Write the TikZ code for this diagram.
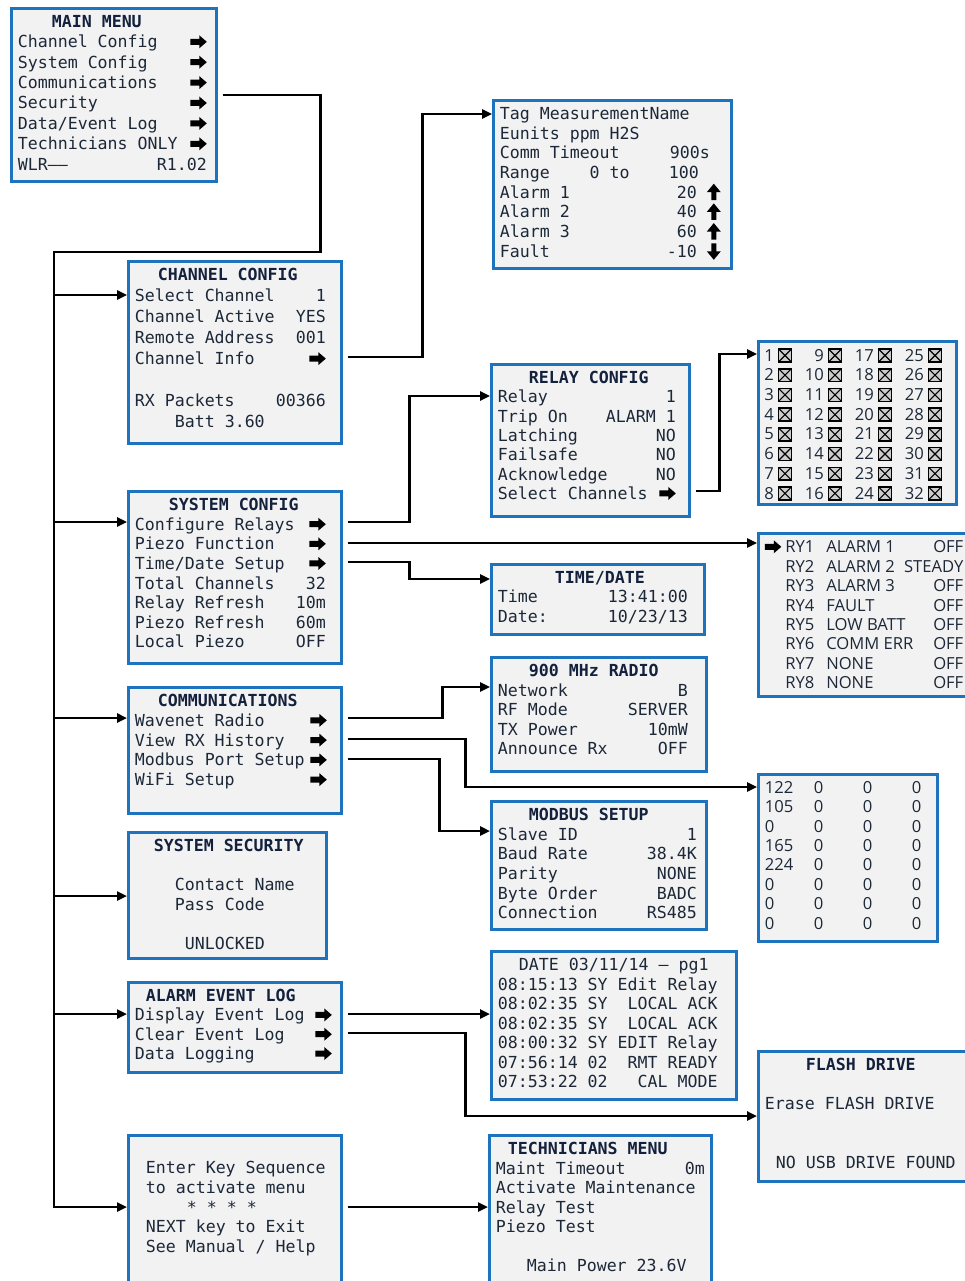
\documentclass[tikz,border=0pt]{standalone}
\usepackage{fontspec}
\usepackage{graphicx}
\usepackage{xcolor}
\usepackage{tikz}
\usetikzlibrary{arrows.meta}
\newfontfamily\lcd{DejaVu Sans Mono}
\newfontfamily\gridf{Open Sans}
\definecolor{scrblue}{HTML}{1E73BE}
\definecolor{scrfill}{HTML}{F2F2F2}
\definecolor{ink}{HTML}{1C2838}
\definecolor{titleink}{HTML}{14213D}
% screen contents: [baselineskip]{total width}{height}{right margin}{lines}
\newcommand\panel[5][19.6pt]{\begin{minipage}[t][#3][t]{#2}%
  \fontsize{16.6pt}{#1}\selectfont\rightskip=#4\relax
  #5\end{minipage}}
\newcommand\ttl[1]{{\bfseries\color{titleink}#1}}
% block arrows and check boxes of the display
\newcommand\ra{\tikz[baseline=0pt, x=1pt, y=1pt]\fill[black]
  (0,3) -- (9,3) -- (9,-0.5) -- (16.5,6) -- (9,12.5) -- (9,9) -- (0,9) -- cycle;}
\newcommand\ua{\tikz[baseline=0pt, x=1pt, y=1pt]\fill[black]
  (4.5,-2) -- (9.5,-2) -- (9.5,6) -- (14,6) -- (7,14.5) -- (0,6) -- (4.5,6) -- cycle;}
\newcommand\da{\tikz[baseline=0pt, x=1pt, y=1pt]\fill[black]
  (4.5,14) -- (9.5,14) -- (9.5,6) -- (14,6) -- (7,-2.5) -- (0,6) -- (4.5,6) -- cycle;}
\newcommand\chk{\tikz[baseline=0pt, x=1pt, y=1pt]{%
  \filldraw[fill=gray!40, draw=black, line width=1.6pt] (0.8,-0.8) rectangle (13.6,12);
  \draw[black, line width=1.1pt] (0.8,-0.8) -- (13.6,12) (0.8,12) -- (13.6,-0.8);}}
\newcommand\blank{\rule{0pt}{12pt}}
\newcommand\chcell[1]{\makebox[9pt][r]{#1}\hspace{4pt}\makebox[16pt][l]{\chk}}
\newcommand\chrow[4]{\chcell{#1}\hspace{21pt}\chcell{#2}\hspace{21pt}\chcell{#3}\hspace{21pt}\chcell{#4}}
\newcommand\rxrow[4]{\makebox[49pt][l]{#1}\makebox[49pt][l]{#2}\makebox[49pt][l]{#3}#4}
\newcommand\ryrow[3]{\makebox[41pt][l]{#1}#2\hfill #3}

\begin{document}
\begin{tikzpicture}[
    x=1pt, y=-1pt,
    screen/.style={draw=scrblue, line width=2.6pt, fill=scrfill, anchor=north west,
      inner xsep=6.5pt, inner ysep=7pt, text=ink, font=\lcd},
    grid/.style={screen, font=\gridf},
    link/.style={line width=2.4pt, -{Triangle[length=10pt,width=9pt]}, shorten <=5pt}
  ]
  \useasboundingbox (0,0) rectangle (964,1281);

  % left column
  \node[screen] (mm) at (10,7) {\panel[20.4pt]{192pt}{159pt}{3pt}{%
    \hspace*{34pt}\ttl{MAIN MENU}\\
    Channel Config\hfill\ra\\
    System Config\hfill\ra\\
    Communications\hfill\ra\\
    Security\hfill\ra\\
    Data/Event Log\hfill\ra\\
    Technicians ONLY\hfill\ra\\
    WLR——\hfill R1.02}};
  \node[screen] (chan) at (127,260) {\panel[21pt]{200pt}{168pt}{9pt}{%
    \hspace*{23pt}\ttl{CHANNEL CONFIG}\\
    Select Channel\hfill 1\\
    Channel Active\hfill YES\\
    Remote Address\hfill 001\\
    Channel Info\hfill\ra\\
    \mbox{}\\
    RX Packets\hfill 00366\\
    \hspace*{40pt}Batt 3.60}};
  \node[screen] (sys) at (127,490) {\panel{200pt}{158pt}{9pt}{%
    \hspace*{34pt}\ttl{SYSTEM CONFIG}\\
    Configure Relays\hfill\ra\\
    Piezo Function\hfill\ra\\
    Time/Date Setup\hfill\ra\\
    Total Channels\hfill 32\\
    Relay Refresh\hfill 10m\\
    Piezo Refresh\hfill 60m\\
    Local Piezo\hfill OFF}};
  \node[screen] (comm) at (127,686) {\panel[19.75pt]{200pt}{112pt}{8pt}{%
    \hspace*{23pt}\ttl{COMMUNICATIONS}\\
    Wavenet Radio\hfill\ra\\
    View RX History\hfill\ra\\
    Modbus Port Setup\hfill\ra\\
    WiFi Setup\hfill\ra}};
  \node[screen] (sec) at (127,831) {\panel[19.5pt]{185pt}{112pt}{0pt}{%
    \hspace*{19pt}\ttl{SYSTEM SECURITY}\\
    \mbox{}\\
    \hspace*{40pt}Contact Name\\
    \hspace*{40pt}Pass Code\\
    \mbox{}\\
    \hspace*{50pt}UNLOCKED}};
  \node[screen] (alog) at (127,981) {\panel[19.3pt]{200pt}{76pt}{3pt}{%
    \hspace*{11pt}\ttl{ALARM EVENT LOG}\\
    Display Event Log\hfill\ra\\
    Clear Event Log\hfill\ra\\
    Data Logging\hfill\ra}};
  \node[screen] (keyseq) at (127,1134) {\panel{200pt}{152pt}{0pt}{%
    \blank\\
    \hspace*{11pt}Enter Key Sequence\\
    \hspace*{11pt}to activate menu\\
    \hspace*{52pt}* * * *\\
    \hspace*{11pt}NEXT key to Exit\\
    \hspace*{11pt}See Manual / Help}};

  % middle column
  \node[screen] (info) at (492,99) {\panel[19.7pt]{225pt}{154pt}{4pt}{%
    Tag MeasurementName\\
    Eunits ppm H2S\\
    Comm Timeout\hfill 900s\hspace*{11pt}\\
    Range~~~~0 to\hfill 100\hspace*{22pt}\\
    Alarm 1\hfill 20~\ua\\
    Alarm 2\hfill 40~\ua\\
    Alarm 3\hfill 60~\ua\\
    Fault\hfill -10~\da}};
  \node[screen] (relay) at (490,363) {\panel[19.3pt]{185pt}{138pt}{7pt}{%
    \hspace*{31pt}\ttl{RELAY CONFIG}\\
    Relay\hfill 1\\
    Trip On\hfill ALARM 1\\
    Latching\hfill NO\\
    Failsafe\hfill NO\\
    Acknowledge\hfill NO\\
    Select Channels\hfill\ra}};
  \node[screen] (clock) at (490,563) {\panel[19.5pt]{200pt}{56pt}{10pt}{%
    \hspace*{57pt}\ttl{TIME/DATE}\\
    Time\hfill 13:41:00\\
    Date:\hfill 10/23/13}};
  \node[screen] (radio) at (490,656) {\panel[19.5pt]{202pt}{100pt}{12pt}{%
    \hspace*{31pt}\ttl{900 MHz RADIO}\\
    Network\hfill B\\
    RF Mode\hfill SERVER\\
    TX Power\hfill 10mW\\
    Announce Rx\hfill OFF}};
  \node[screen] (modbus) at (490,800) {\panel{202pt}{114pt}{3pt}{%
    \hspace*{31pt}\ttl{MODBUS SETUP}\\
    Slave ID\hfill 1\\
    Baud Rate\hfill 38.4K\\
    Parity\hfill NONE\\
    Byte Order\hfill BADC\\
    Connection\hfill RS485}};
  \node[screen] (evlog) at (490,950) {\panel[19.5pt]{232pt}{134pt}{2pt}{%
    \hspace*{21pt}DATE 03/11/14 – pg1\\
    \hfill 08:15:13 SY Edit Relay\\
    \hfill 08:02:35 SY~~LOCAL ACK\\
    \hfill 08:02:35 SY~~LOCAL ACK\\
    \hfill 08:00:32 SY EDIT Relay\\
    \hfill 07:56:14 02~~RMT READY\\
    \hfill 07:53:22 02~~~CAL MODE}};
  \node[screen] (tech) at (488,1134) {\panel[19.5pt]{209pt}{152pt}{0pt}{%
    \hspace*{12pt}\ttl{TECHNICIANS MENU}\\
    Maint Timeout\hfill 0m\\
    Activate Maintenance\\
    Relay Test\\
    Piezo Test\\
    \mbox{}\\
    \hspace*{31pt}Main Power 23.6V}};

  % right column
  \node[grid] (chsel) at (757,340) {\panel[19.7pt]{185pt}{149pt}{0pt}{%
    \chrow{1}{9}{17}{25}\\
    \chrow{2}{10}{18}{26}\\
    \chrow{3}{11}{19}{27}\\
    \chrow{4}{12}{20}{28}\\
    \chrow{5}{13}{21}{29}\\
    \chrow{6}{14}{22}{30}\\
    \chrow{7}{15}{23}{31}\\
    \chrow{8}{16}{24}{32}}};
  \node[grid] (ry) at (757,532) {\panel[19.4pt]{198.5pt}{149pt}{0pt}{%
    \makebox[20.5pt][l]{\ra}\ryrow{RY1}{ALARM 1}{OFF}\\
    \hspace*{20.5pt}\ryrow{RY2}{ALARM 2}{STEADY}\\
    \hspace*{20.5pt}\ryrow{RY3}{ALARM 3}{OFF}\\
    \hspace*{20.5pt}\ryrow{RY4}{FAULT}{OFF}\\
    \hspace*{20.5pt}\ryrow{RY5}{LOW BATT}{OFF}\\
    \hspace*{20.5pt}\ryrow{RY6}{COMM ERR}{OFF}\\
    \hspace*{20.5pt}\ryrow{RY7}{NONE}{OFF}\\
    \hspace*{20.5pt}\ryrow{RY8}{NONE}{OFF}}};
  \node[grid] (rxh) at (757,773) {\panel[19.4pt]{166pt}{153pt}{0pt}{%
    \rxrow{122}{0}{0}{0}\\
    \rxrow{105}{0}{0}{0}\\
    \rxrow{0}{0}{0}{0}\\
    \rxrow{165}{0}{0}{0}\\
    \rxrow{224}{0}{0}{0}\\
    \rxrow{0}{0}{0}{0}\\
    \rxrow{0}{0}{0}{0}\\
    \rxrow{0}{0}{0}{0}}};
  \node[screen] (flash) at (757,1050) {\panel[19.5pt]{205pt}{116pt}{14pt}{%
    \hspace*{41pt}\ttl{FLASH DRIVE}\\
    \mbox{}\\
    Erase FLASH DRIVE\\
    \mbox{}\\
    \mbox{}\\
    \hspace*{11pt}NO USB DRIVE FOUND}};

  % connectors
  \coordinate (bus) at (54,252);
  \draw[link] (mm.east) -- ++(103,0) |- (bus) |- (keyseq.west |- 0,1207);
  \draw[link, shorten <=0pt] (bus |- 0,295) -- (chan.west |- 0,295);
  \draw[link, shorten <=0pt] (bus |- 0,522) -- (sys.west |- 0,522);
  \draw[link, shorten <=0pt] (bus |- 0,718) -- (comm.west |- 0,718);
  \draw[link, shorten <=0pt] (bus |- 0,896) -- (sec.west |- 0,896);
  \draw[link, shorten <=0pt] (bus |- 0,1014) -- (alog.west |- 0,1014);

  \draw[link] (chan.east |- 0,357) -- ++(80,0) |- (info.west |- 0,114);
  \draw[link] (sys.east |- 0,522) -- ++(67,0) |- (relay.west |- 0,396);
  \draw[link] (sys.east |- 0,543) -- (ry.west |- 0,543);
  \draw[link] (sys.east |- 0,562) -- ++(67,0) |- (clock.west |- 0,579);
  \draw[link] (relay.east |- 0,491) -- ++(29,0) |- (chsel.west |- 0,354);
  \draw[link] (comm.east |- 0,718) -- ++(100,0) |- (radio.west |- 0,687);
  \draw[link] (comm.east |- 0,739) -- ++(123,0) |- (rxh.west |- 0,787);
  \draw[link] (comm.east |- 0,759) -- ++(97,0) |- (modbus.west |- 0,831);
  \draw[link] (alog.east |- 0,1014) -- (evlog.west |- 0,1014);
  \draw[link] (alog.east |- 0,1033) -- ++(123,0) |- (flash.west |- 0,1116);
  \draw[link] (keyseq.east |- 0,1207) -- (tech.west |- 0,1207);
\end{tikzpicture}
\end{document}
